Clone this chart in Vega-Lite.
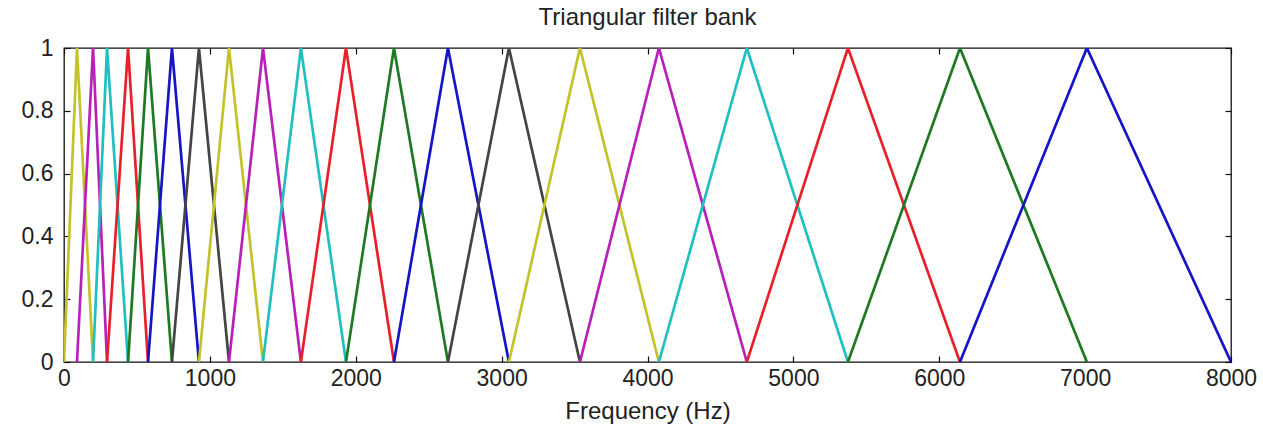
{
  "$schema": "https://vega.github.io/schema/vega-lite/v6.json",
  "width": 1167,
  "height": 314,
  "autosize": "none",
  "padding": {"left": 64, "top": 48, "right": 32, "bottom": 73},
  "background": "white",
  "config": {
    "view": {"stroke": "#111111", "strokeWidth": 1.3},
    "axis": {"grid": false, "domain": false, "tickColor": "#111111", "tickWidth": 1.2, "labelFont": "Liberation Sans", "titleFont": "Liberation Sans", "labelColor": "#222222", "titleColor": "#222222", "titleFontWeight": "normal"}
  },
  "title": {"text": "Triangular filter bank", "font": "Liberation Sans", "fontSize": 24, "fontWeight": "normal", "color": "#222222", "anchor": "middle", "offset": 7},
  "data": {"values": [
    {"filter": 1, "hz": 0, "v": 0}, {"filter": 1, "hz": 89, "v": 1}, {"filter": 1, "hz": 199, "v": 0},
    {"filter": 2, "hz": 89, "v": 0}, {"filter": 2, "hz": 199, "v": 1}, {"filter": 2, "hz": 295, "v": 0},
    {"filter": 3, "hz": 199, "v": 0}, {"filter": 3, "hz": 295, "v": 1}, {"filter": 3, "hz": 439, "v": 0},
    {"filter": 4, "hz": 295, "v": 0}, {"filter": 4, "hz": 439, "v": 1}, {"filter": 4, "hz": 576, "v": 0},
    {"filter": 5, "hz": 439, "v": 0}, {"filter": 5, "hz": 576, "v": 1}, {"filter": 5, "hz": 740, "v": 0},
    {"filter": 6, "hz": 576, "v": 0}, {"filter": 6, "hz": 740, "v": 1}, {"filter": 6, "hz": 925, "v": 0},
    {"filter": 7, "hz": 740, "v": 0}, {"filter": 7, "hz": 925, "v": 1}, {"filter": 7, "hz": 1131, "v": 0},
    {"filter": 8, "hz": 925, "v": 0}, {"filter": 8, "hz": 1131, "v": 1}, {"filter": 8, "hz": 1364, "v": 0},
    {"filter": 9, "hz": 1131, "v": 0}, {"filter": 9, "hz": 1364, "v": 1}, {"filter": 9, "hz": 1624, "v": 0},
    {"filter": 10, "hz": 1364, "v": 0}, {"filter": 10, "hz": 1624, "v": 1}, {"filter": 10, "hz": 1933, "v": 0},
    {"filter": 11, "hz": 1624, "v": 0}, {"filter": 11, "hz": 1933, "v": 1}, {"filter": 11, "hz": 2262, "v": 0},
    {"filter": 12, "hz": 1933, "v": 0}, {"filter": 12, "hz": 2262, "v": 1}, {"filter": 12, "hz": 2632, "v": 0},
    {"filter": 13, "hz": 2262, "v": 0}, {"filter": 13, "hz": 2632, "v": 1}, {"filter": 13, "hz": 3050, "v": 0},
    {"filter": 14, "hz": 2632, "v": 0}, {"filter": 14, "hz": 3050, "v": 1}, {"filter": 14, "hz": 3537, "v": 0},
    {"filter": 15, "hz": 3050, "v": 0}, {"filter": 15, "hz": 3537, "v": 1}, {"filter": 15, "hz": 4078, "v": 0},
    {"filter": 16, "hz": 3537, "v": 0}, {"filter": 16, "hz": 4078, "v": 1}, {"filter": 16, "hz": 4681, "v": 0},
    {"filter": 17, "hz": 4078, "v": 0}, {"filter": 17, "hz": 4681, "v": 1}, {"filter": 17, "hz": 5374, "v": 0},
    {"filter": 18, "hz": 4681, "v": 0}, {"filter": 18, "hz": 5374, "v": 1}, {"filter": 18, "hz": 6142, "v": 0},
    {"filter": 19, "hz": 5374, "v": 0}, {"filter": 19, "hz": 6142, "v": 1}, {"filter": 19, "hz": 7012, "v": 0},
    {"filter": 20, "hz": 6142, "v": 0}, {"filter": 20, "hz": 7012, "v": 1}, {"filter": 20, "hz": 8000, "v": 0}
  ]},
  "layer": [
    {
      "mark": {"type": "line", "strokeWidth": 2.7, "clip": true},
      "encoding": {
        "x": {"field": "hz", "type": "quantitative", "scale": {"domain": [0, 8000], "nice": false},
              "axis": {"orient": "bottom", "values": [0,1000,2000,3000,4000,5000,6000,7000,8000], "format": "d", "labelFontSize": 23, "tickSize": -6, "labelPadding": 11, "title": "Frequency (Hz)", "titleFontSize": 24, "titlePadding": 9, "labelFlush": false}},
        "y": {"field": "v", "type": "quantitative", "scale": {"domain": [0, 1], "nice": false},
              "axis": {"orient": "left", "values": [0,0.2,0.4,0.6,0.8,1], "format": ".1~f", "labelFontSize": 23, "tickSize": -6, "labelPadding": 17, "title": null, "labelFlush": false}},
        "color": {"field": "filter", "type": "nominal", "legend": null,
                  "scale": {"domain": [1,2,3,4,5,6,7,8,9,10,11,12,13,14,15,16,17,18,19,20],
                            "range": ["#C4C22A","#B821B8","#22BFC0","#E8202A","#1E7A22","#1515C8","#444444","#C4C22A","#B821B8","#22BFC0","#E8202A","#1E7A22","#1515C8","#444444","#C4C22A","#B821B8","#22BFC0","#E8202A","#1E7A22","#1515C8"]}}
      }
    },
    {
      "mark": {"type": "point", "opacity": 0},
      "encoding": {
        "x": {"field": "hz", "type": "quantitative", "axis": {"orient": "top", "values": [0,1000,2000,3000,4000,5000,6000,7000,8000], "labels": false, "tickSize": -6, "title": null}},
        "y": {"field": "v", "type": "quantitative", "axis": {"orient": "right", "values": [0,0.2,0.4,0.6,0.8,1], "labels": false, "tickSize": -6, "title": null}}
      }
    }
  ],
  "resolve": {"axis": {"x": "independent", "y": "independent"}}
}
